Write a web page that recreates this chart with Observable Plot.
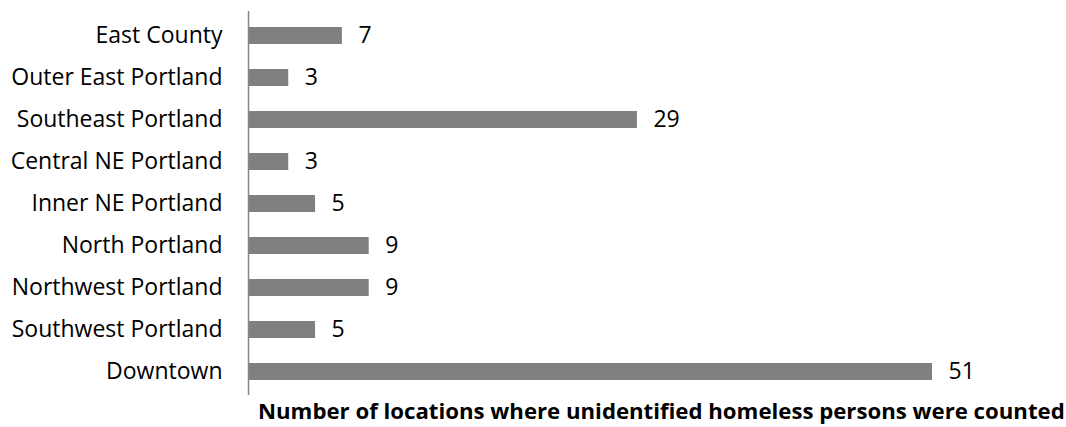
<!DOCTYPE html>
<html>
<head>
<meta charset="utf-8">
<script src="https://cdn.jsdelivr.net/npm/d3@7"></script>
<script src="https://cdn.jsdelivr.net/npm/@observablehq/plot@0.6"></script>
<style>
  body { margin: 0; background: #fff; font-family: "Open Sans", sans-serif; }
  #wrap { position: relative; width: 1066px; height: 427px; }
  #title { position: absolute; left: 258px; top: 400px; font-weight: bold; font-size: 22.2px; line-height: 22px; color: #000; white-space: nowrap; }
</style>
</head>
<body>
<div id="wrap">
  <div id="chart"></div>
  <div id="title">Number of locations where unidentified homeless persons were counted</div>
</div>
<script>
const categories = ["East County", "Outer East Portland", "Southeast Portland", "Central NE Portland", "Inner NE Portland", "North Portland", "Northwest Portland", "Southwest Portland", "Downtown"];
const values = [7, 3, 29, 3, 5, 9, 9, 5, 51];
const data = categories.map((c, i) => ({category: c, value: values[i]}));

const chart = Plot.plot({
  width: 1066,
  height: 400,
  marginTop: 11,
  marginBottom: 5,
  marginLeft: 248,
  marginRight: 134,
  style: {fontFamily: "Open Sans", fontSize: "23px", background: "#fff"},
  x: {domain: [0, 51], axis: null},
  y: {domain: categories, paddingInner: 0.6, paddingOuter: 0.3, axis: null},
  marks: [
    Plot.barX(data, {x: "value", y: "category", fill: "#808080"}),
    Plot.text(data, {x: "value", y: "category", text: d => String(d.value), textAnchor: "start", dx: 16, fill: "#000", fontSize: 23}),
    Plot.ruleX([0], {stroke: "#868686", strokeWidth: 1.5}),
    Plot.axisY({tickSize: 0, tickPadding: 26, fontSize: 23, color: "#000", label: null})
  ]
});
document.getElementById("chart").appendChild(chart);
</script>
</body>
</html>
